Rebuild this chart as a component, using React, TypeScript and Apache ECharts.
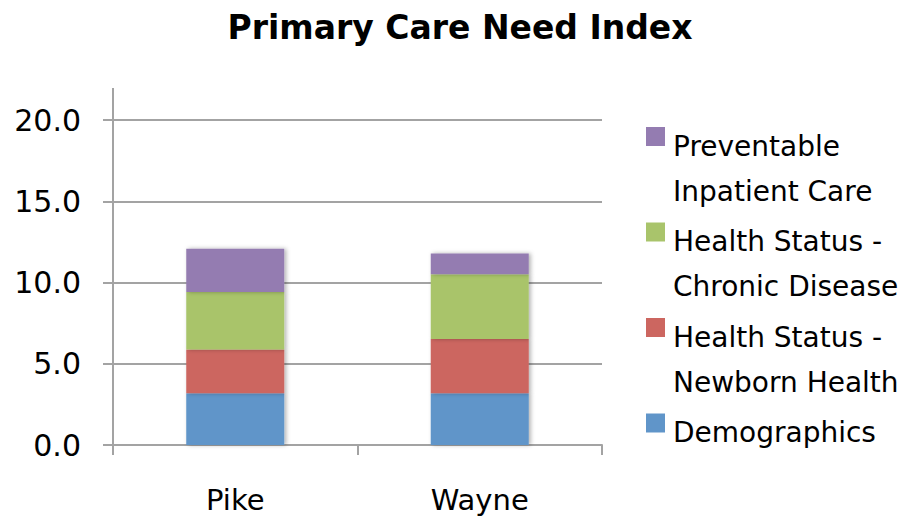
import React, { useEffect, useRef } from "react";
import * as echarts from "echarts";

const categories = ["Pike", "Wayne"];
const seriesNames = [
  "Demographics",
  "Health Status - Newborn Health",
  "Health Status - Chronic Disease",
  "Preventable Inpatient Care",
];
const demographics = [3.18, 3.18];
const newbornHealth = [2.69, 3.35];
const chronicDisease = [3.55, 3.98];
const preventableCare = [2.65, 1.27];
const seriesValues = [demographics, newbornHealth, chronicDisease, preventableCare];
const legendLines = [
  ["Demographics"],
  ["Health Status -", "Newborn Health"],
  ["Health Status -", "Chronic Disease"],
  ["Preventable", "Inpatient Care"],
];
const yMin = 0;
const yMax = 20;
const yInterval = 5;

const colors = ["#6095c9", "#cc6660", "#a9c46b", "#947cb1"];
const FONT = "'DejaVu Sans', sans-serif";
const GRAY = "#a3a3a3";

export default function App() {
  const ref = useRef<HTMLDivElement>(null);
  useEffect(() => {
    if (!ref.current) return;
    const chart = echarts.init(ref.current, undefined, { renderer: "svg" });

    const gridLeft = 113;
    const gridTop = 120;
    const axisTop = 88;

    // legend built as graphic (top item = last series)
    const legendEls: any[] = [];
    const lineH = 45;
    const itemGap = 5.5;
    let baseline = 156;
    const order = [3, 2, 1, 0];
    order.forEach((si) => {
      legendEls.push({
        type: "rect",
        shape: { x: 646, y: baseline - 29, width: 19, height: 19 },
        style: { fill: colors[si] },
      });
      legendLines[si].forEach((ln, li) => {
        legendEls.push({
          type: "text",
          x: 673,
          y: baseline + li * lineH - 10,
          style: {
            text: ln,
            font: `28px ${FONT}`,
            fill: "#000",
            align: "left",
            verticalAlign: "middle",
          },
        });
      });
      baseline += legendLines[si].length * lineH + itemGap;
    });

    chart.setOption({
      animation: false,
      title: {
        text: "Primary Care Need Index",
        left: "center",
        top: 6,
        textStyle: { fontFamily: FONT, fontWeight: "bold", fontSize: 33, color: "#000" },
      },
      grid: { left: gridLeft, top: gridTop, right: 318, bottom: 74, containLabel: false },
      xAxis: {
        type: "category",
        data: categories,
        axisLine: { lineStyle: { color: GRAY, width: 2 } },
        axisTick: { show: true, length: 10, lineStyle: { color: GRAY, width: 2 } },
        axisLabel: { color: "#000", fontFamily: FONT, fontSize: 29, margin: 40 },
      },
      yAxis: {
        type: "value",
        min: yMin,
        max: yMax,
        interval: yInterval,
        axisLine: { show: true, lineStyle: { color: GRAY, width: 2 } },
        axisTick: { show: true, length: 10, lineStyle: { color: GRAY, width: 2 } },
        splitLine: { show: true, lineStyle: { color: GRAY, width: 2 } },
        axisLabel: {
          color: "#000",
          fontFamily: FONT,
          fontSize: 30,
          margin: 32,
          formatter: (v: number) => v.toFixed(1),
        },
      },
      series: seriesNames.map((name, i) => ({
        name,
        type: "bar",
        stack: "total",
        barWidth: 98,
        data: seriesValues[i],
        itemStyle: {
          color: colors[i],
          shadowBlur: 4,
          shadowColor: "rgba(0,0,0,0.3)",
          shadowOffsetX: 2,
          shadowOffsetY: 0,
        },
      })),
      graphic: [
        {
          type: "line",
          shape: { x1: gridLeft, y1: axisTop, x2: gridLeft, y2: gridTop },
          style: { stroke: GRAY, lineWidth: 2 },
        },
        ...legendEls,
      ],
    });
    return () => chart.dispose();
  }, []);
  return (
    <div
      ref={ref}
      style={{ position: "fixed", left: 0, top: 0, width: 920, height: 519, background: "#fff" }}
    />
  );
}
